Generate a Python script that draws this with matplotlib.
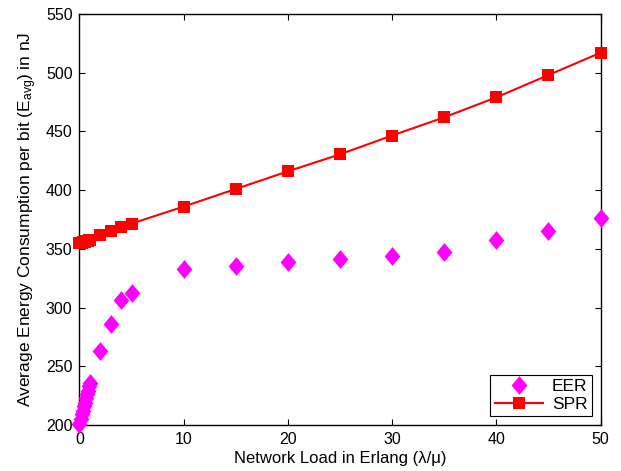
import matplotlib
matplotlib.use("Agg")
import matplotlib.pyplot as plt

plt.rcParams['font.family'] = ['Liberation Sans', 'DejaVu Sans']
plt.rcParams['mathtext.fontset'] = 'custom'
plt.rcParams['mathtext.rm'] = 'Liberation Sans'
plt.rcParams['mathtext.it'] = 'Liberation Sans'

load = [0, 0.1, 0.2, 0.3, 0.4, 0.5, 0.6, 0.7, 0.8, 0.9, 1,
        2, 3, 4, 5, 10, 15, 20, 25, 30, 35, 40, 45, 50]
eer = [201, 205, 209, 212, 216, 219, 223, 226, 229, 233, 236,
       263, 286, 306.5, 312.5, 332.5, 335, 339, 341.5, 344, 347, 357.5, 365, 376]
spr = [355, 355.2, 355.4, 355.6, 355.8, 356, 356.3, 356.6, 356.9, 357.2, 357.5,
       361.5, 365.3, 368.2, 371.5, 386, 401, 416, 430.5, 446.5, 462, 479, 498, 517]

xticks = [0, 10, 20, 30, 40, 50]
yticks = [200, 250, 300, 350, 400, 450, 500, 550]

fig = plt.figure(figsize=(6.21, 4.71), dpi=100)
ax = fig.add_axes([0.128, 0.0977, 0.839, 0.8726])

diamond = [(0, 1), (0.84, 0), (0, -1), (-0.84, 0), (0, 1)]
ax.plot(load, eer, linestyle='none', marker=diamond, markersize=13.5,
        color=(1, 0, 1), markeredgewidth=0, label='EER', clip_on=False, zorder=3)
ax.plot(load, spr, linestyle='-', linewidth=1.5, marker='s', markersize=8.5,
        color=(1, 0, 0), markeredgewidth=0, label='SPR', clip_on=False, zorder=3)

ax.set_xlim(0, 50)
ax.set_ylim(200, 550)
ax.set_xticks(xticks)
ax.set_yticks(yticks)
ax.tick_params(direction='in', length=4, width=0.8, labelsize=11.5, top=True, right=True, pad=5)
for s in ax.spines.values():
    s.set_linewidth(1.0)

ax.set_xlabel('Network Load in Erlang (λ/μ)', fontsize=12, labelpad=3)
ax.set_ylabel('Average Energy Consumption per bit (E$_{\\mathrm{avg}}$) in nJ', fontsize=12.5, labelpad=5)

leg = ax.legend(loc='lower right', fontsize=12.5, frameon=True, fancybox=False,
                edgecolor='black', framealpha=1, borderaxespad=0.5,
                handlelength=2.8, handletextpad=0.5, borderpad=0.25, labelspacing=0.15)
leg.get_frame().set_linewidth(0.8)
leg.set_zorder(5)

fig.savefig('out.png', dpi=100)
